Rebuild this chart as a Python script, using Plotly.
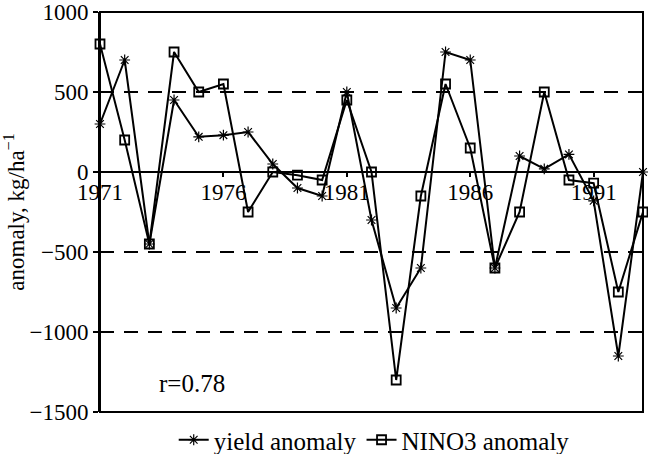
import plotly.graph_objects as go

# 年份与两组距平数据
years = list(range(1971, 1994))
yield_anomaly = [300, 700, -450, 450, 220, 230, 250, 50, -100, -150, 500, -300,
                 -850, -600, 750, 700, -600, 100, 20, 110, -180, -1150, 0]
nino3_anomaly = [800, 200, -450, 750, 500, 550, -250, 0, -20, -50, 450, 0,
                 -1300, -150, 550, 150, -600, -250, 500, -50, -70, -750, -250]
x_ticks = [1971, 1976, 1981, 1986, 1991]
y_ticks = [1000, 500, 0, -500, -1000, -1500]

FONT = "Liberation Serif"
TICK_FS = 23
TEXT_FS = 25

fig = go.Figure()

fig.add_trace(go.Scatter(
    x=years, y=yield_anomaly, name="yield anomaly",
    mode="lines+markers",
    line=dict(color="black", width=2),
    marker=dict(symbol="asterisk-open", size=9, color="black",
                line=dict(color="black", width=1.2)),
    cliponaxis=False,
))

fig.add_trace(go.Scatter(
    x=years, y=nino3_anomaly, name="NINO3 anomaly",
    mode="lines+markers",
    line=dict(color="black", width=2),
    marker=dict(symbol="square-open", size=9, color="black",
                line=dict(color="black", width=1.8)),
    cliponaxis=False,
))

# 外框
fig.add_shape(type="rect", xref="x domain", yref="y domain",
              x0=0, x1=1, y0=0, y1=1,
              line=dict(color="black", width=2), layer="below")

fig.add_annotation(x=1973.3, y=-1320, text="r=0.78", showarrow=False,
                   xanchor="left", yanchor="middle",
                   font=dict(family=FONT, size=TEXT_FS, color="black"))

fig.update_layout(
    width=648, height=454,
    margin=dict(l=100, r=5, t=12, b=42, autoexpand=False),
    paper_bgcolor="white", plot_bgcolor="white",
    font=dict(family=FONT, size=TEXT_FS, color="black"),
    showlegend=True,
    legend=dict(orientation="h", x=0.505, xanchor="center",
                y=-0.07, yanchor="middle", itemwidth=30,
                font=dict(family=FONT, size=TEXT_FS, color="black"),
                bgcolor="rgba(0,0,0,0)"),
    xaxis=dict(
        range=[1971, 1993], tickvals=x_ticks,
        anchor="free", position=0.6,
        showline=True, linecolor="black", linewidth=2,
        ticks="outside", ticklen=4, tickwidth=1.5, tickcolor="black",
        ticklabelstandoff=-5,
        showgrid=False, zeroline=False,
        tickfont=dict(family=FONT, size=TICK_FS, color="black"),
    ),
    yaxis=dict(
        range=[-1500, 1000], tickvals=y_ticks,
        showline=True, linecolor="black", linewidth=2,
        ticks="outside", ticklen=5, tickwidth=1.5, tickcolor="black",
        showgrid=True, gridcolor="black", gridwidth=1.5, griddash="14px,10px",
        zeroline=False, automargin=False,
        title=dict(text="anomaly, kg/ha<sup>−1</sup>", standoff=6,
                   font=dict(family=FONT, size=23, color="black")),
        tickfont=dict(family=FONT, size=TICK_FS, color="black"),
    ),
)

fig.write_html("out.html", config={"displayModeBar": False},
               post_script="document.body.style.margin='0';")
